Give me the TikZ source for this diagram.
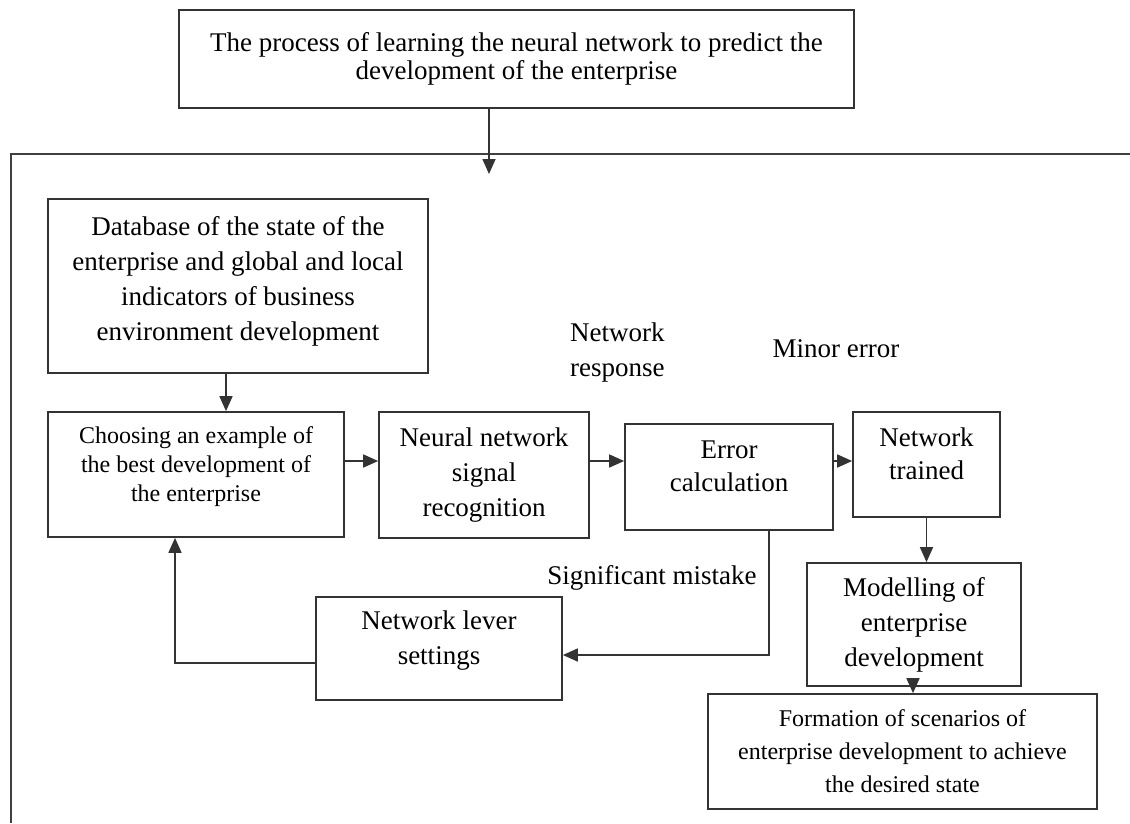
\documentclass[tikz,border=0pt]{standalone}
\usepackage{fontspec}
\setmainfont{Liberation Serif}
\usetikzlibrary{arrows.meta}
\newcommand\dlift[1]{\rule[-#1pt]{0pt}{#1pt}}
\begin{document}
\begin{tikzpicture}[x=1pt,y=-1pt,
  font=\fontsize{27}{35}\selectfont,
  box/.style={draw=black!80, line width=1.7pt, inner sep=0pt, align=center},
  conn/.style={draw=black!80, line width=1.6pt, -{Triangle[length=15pt,width=13pt]}},
  lbl/.style={inner sep=0pt, align=left},
  frameline/.style={draw=black!75, line width=1.8pt}
]
\useasboundingbox (0,0) rectangle (1130,823);
% open frame
\coordinate (fr1) at (1130,154);
\coordinate (fr2) at (11,154);
\coordinate (fr3) at (11,823);
\draw[frameline] (fr1) -- (fr2) -- (fr3);

\node[box, minimum width=675pt, minimum height=98pt, font=\fontsize{27}{28}\selectfont] (top) at (516.5,59)
  {The process of learning the neural network to predict the\\development of the enterprise};
\node[box, minimum width=380pt, minimum height=174pt] (db) at (238,286)
  {Database of the state of the\\enterprise and global and local\\indicators of business\\environment development\dlift{16}};
\node[box, minimum width=296pt, minimum height=125pt, font=\fontsize{24}{29}\selectfont] (choose) at (196,474.5)
  {Choosing an example of\\the best development of\\the enterprise\dlift{20}};
\node[box, minimum width=210pt, minimum height=126pt] (neural) at (484,475)
  {Neural network\\signal\\recognition};
\node[box, minimum width=208pt, minimum height=106pt, font=\fontsize{27}{33}\selectfont] (error) at (729,477)
  {Error\\calculation\dlift{22}};
\node[box, minimum width=147pt, minimum height=105pt, font=\fontsize{27}{33}\selectfont] (trained) at (926.5,464.5)
  {Network\\trained\dlift{22}};
\node[box, minimum width=214pt, minimum height=123pt] (model) at (914,624.5)
  {Modelling of\\enterprise\\development};
\node[box, minimum width=389pt, minimum height=115pt, font=\fontsize{24}{33}\selectfont] (form) at (902.5,751.5)
  {Formation of scenarios of\\enterprise development to achieve\\the desired state};
\node[box, minimum width=246pt, minimum height=103pt] (lever) at (439,648.5)
  {Network lever\\settings\dlift{22}};

\node[lbl, anchor=west] (resp) at (570,352) {Network\\response};
\node[inner sep=0pt] (minor) at (836,349) {Minor error};
\node[inner sep=0pt] (sig) at (652,578) {Significant mistake};

\coordinate (entry) at (489,174);
\draw[conn] (top.south -| entry) -- (entry);
\draw[conn] ([xshift=-12pt]db.south) -- ([xshift=-12pt]db.south |- choose.north);
\draw[conn] ([yshift=13.5pt]choose.east) -- ([yshift=13.5pt]choose.east -| neural.west);
\draw[conn] ([yshift=14pt]neural.east) -- ([yshift=14pt]neural.east -| error.west);
\draw[conn] ([yshift=16pt]error.east) -- ([yshift=16pt]error.east -| trained.west);
\draw[conn] (trained.south) -- (trained.south |- model.north);
\draw[conn] ([xshift=-1pt]model.south) -- ([xshift=-1pt]model.south |- form.north);
\draw[conn] ([xshift=40pt]error.south) |- ([yshift=-6.5pt]lever.east);
\draw[conn] ([yshift=-14.5pt]lever.west) -| ([xshift=-21pt]choose.south);
\end{tikzpicture}
\end{document}
